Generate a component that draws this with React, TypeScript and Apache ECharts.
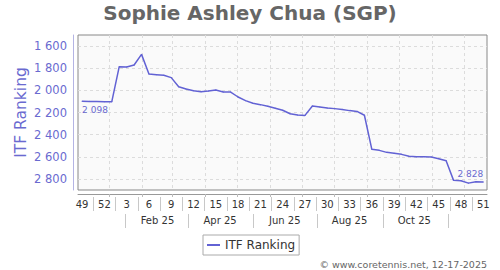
import React, { useEffect, useRef } from 'react';
import * as echarts from 'echarts';

const playerTitle = 'Sophie Ashley Chua (SGP)';
const seriesName = 'ITF Ranking';
const copyright = '© www.coretennis.net, 12-17-2025';

// one ranking per week, week 49 of 2024 through week 51 of 2025
const ranks = [
  2098, 2100, 2101, 2102, 2102, 1786, 1789, 1771, 1675, 1852,
  1858, 1864, 1885, 1967, 1988, 2003, 2012, 2006, 1997, 2015,
  2015, 2060, 2093, 2117, 2129, 2144, 2162, 2180, 2211, 2223,
  2226, 2141, 2150, 2159, 2165, 2172, 2183, 2190, 2225, 2533,
  2542, 2560, 2569, 2578, 2596, 2599, 2599, 2602, 2617, 2635,
  2813, 2816, 2838, 2825, 2828,
];

// labels shown every third week
const weekLabels = ['49', '52', '3', '6', '9', '12', '15', '18', '21', '24', '27', '30', '33', '36', '39', '42', '45', '48', '51'];
const yTicks = [1600, 1800, 2000, 2200, 2400, 2600, 2800];
// day of year 2025 of each month start (grid lines)
const monthStartDays = [0, 31, 59, 90, 120, 151, 181, 212, 243, 273, 304, 334];
const monthLabels = ['Feb 25', 'Apr 25', 'Jun 25', 'Aug 25', 'Oct 25'];
const monthLabelDays = [45, 104, 165, 226, 287];
const monthSepDays = [15, 74, 135, 196, 258, 319];

const X_MIN = -0.55;
const X_MAX = 54.5;
const FONT = 'DejaVu Sans';
const PURPLE = '#6a6ad0';
const LINE = '#6262d4';

const dayToIdx = (d: number) => 4 + (d - 2) / 7;
const fmtK = (v: number) => {
  const s = String(Math.round(v));
  return s.length > 3 ? s.slice(0, -3) + ' ' + s.slice(-3) : s;
};
const weekLabelPos = weekLabels.map((_, i) => i * 3);
const weekSepPos = weekLabels.slice(1).map((_, i) => i * 3 + 1.5);
const monthStartPos = monthStartDays.map(dayToIdx);
const monthLabelPos = monthLabelDays.map(dayToIdx);
const monthSepPos = monthSepDays.map(dayToIdx);
const lookup = (pos: number[], labels: string[]) => (v: number) => {
  const k = pos.findIndex((p) => Math.abs(p - v) < 1e-6);
  return k >= 0 ? labels[k] : '';
};

export default function App() {
  const ref = useRef<HTMLDivElement>(null);
  useEffect(() => {
    document.body.style.margin = '0';
    const chart = echarts.init(ref.current!, null, { renderer: 'svg' });
    const last = ranks.length - 1;
    const option: any = {
      animation: false,
      textStyle: { fontFamily: FONT },
      title: [
        {
          text: playerTitle, left: 'center', top: 3, padding: 0,
          textStyle: { fontSize: 20, fontWeight: 'bold', color: '#666', fontFamily: FONT },
        },
        {
          text: copyright, right: 13, bottom: 1, padding: 0,
          textStyle: { fontSize: 9.5, fontWeight: 'normal', color: '#666', fontFamily: FONT },
        },
      ],
      legend: {
        data: [seriesName], left: 203, top: 235, padding: [4, 4],
        itemWidth: 13, itemHeight: 2, icon: 'rect',
        borderColor: '#aaa', borderWidth: 1,
        textStyle: { fontSize: 12, color: '#333', fontFamily: FONT },
      },
      grid: {
        left: 78, right: 13, top: 35, bottom: 80, show: true,
        backgroundColor: '#fafafa', borderColor: '#888', borderWidth: 1,
        containLabel: false, outerBoundsMode: 'none',
      },
      xAxis: [
        {
          type: 'value', position: 'bottom', offset: 4, min: X_MIN, max: X_MAX,
          axisLine: { show: true, onZero: false, lineStyle: { color: '#999', width: 1 } },
          axisTick: { show: true, length: 3, customValues: monthStartPos, lineStyle: { color: '#bbb' } },
          splitLine: { show: true, lineStyle: { color: '#dcdcdc', type: [3, 3] } },
          axisLabel: {
            show: true, customValues: weekLabelPos, formatter: lookup(weekLabelPos, weekLabels),
            margin: 5, fontSize: 10, color: '#333', fontFamily: FONT,
          },
        },
        {
          type: 'value', position: 'bottom', offset: 7, min: X_MIN, max: X_MAX,
          axisLine: { show: false, onZero: false },
          axisTick: { show: true, length: 14, customValues: weekSepPos, lineStyle: { color: '#c8c8c8' } },
          axisLabel: { show: false },
          splitLine: { show: false },
        },
        {
          type: 'value', position: 'bottom', offset: 24, min: X_MIN, max: X_MAX,
          axisLine: { show: false, onZero: false },
          axisTick: { show: true, length: 14, customValues: monthSepPos, lineStyle: { color: '#c8c8c8' } },
          axisLabel: {
            show: true, customValues: monthLabelPos, formatter: lookup(monthLabelPos, monthLabels),
            margin: 1, fontSize: 10, color: '#333', fontFamily: FONT,
          },
          splitLine: { show: false },
        },
      ],
      yAxis: {
        type: 'value', position: 'left', inverse: true, min: 1500, max: 2900, offset: 5,
        name: seriesName, nameLocation: 'middle', nameGap: 44, nameRotate: 90,
        nameMoveOverlap: false,
        nameTextStyle: { fontSize: 15.5, color: PURPLE, fontFamily: FONT },
        axisLine: { show: true, onZero: false, lineStyle: { color: '#b4b4e4', width: 1 } },
        axisTick: { show: false, customValues: yTicks },
        axisLabel: {
          customValues: yTicks, formatter: (v: number) => fmtK(v),
          margin: 6, fontSize: 11.5, color: PURPLE, fontFamily: FONT,
        },
        splitLine: { show: true, lineStyle: { color: '#dcdcdc', type: [3, 3] } },
      },
      series: [
        {
          name: seriesName, type: 'line', xAxisIndex: 0, yAxisIndex: 0,
          symbol: 'circle', symbolSize: 1, showSymbol: true,
          lineStyle: { color: LINE, width: 1.5 },
          itemStyle: { color: LINE },
          label: { show: false },
          data: ranks.map((r, i) => {
            if (i === 0) {
              return {
                value: [i, r],
                label: {
                  show: true, position: 'bottom', align: 'left', distance: 4,
                  formatter: (p: any) => fmtK(p.value[1]), fontSize: 9, color: PURPLE, fontFamily: FONT,
                },
              };
            }
            if (i === last) {
              return {
                value: [i, r],
                label: {
                  show: true, position: 'top', align: 'right', distance: 3,
                  formatter: (p: any) => fmtK(p.value[1]), fontSize: 9, color: PURPLE, fontFamily: FONT,
                },
              };
            }
            return [i, r];
          }),
        },
      ],
    };
    chart.setOption(option);
    return () => chart.dispose();
  }, []);
  return (
    <div
      ref={ref}
      style={{ position: 'absolute', left: 0, top: 0, width: 500, height: 270, background: '#fff' }}
    />
  );
}
